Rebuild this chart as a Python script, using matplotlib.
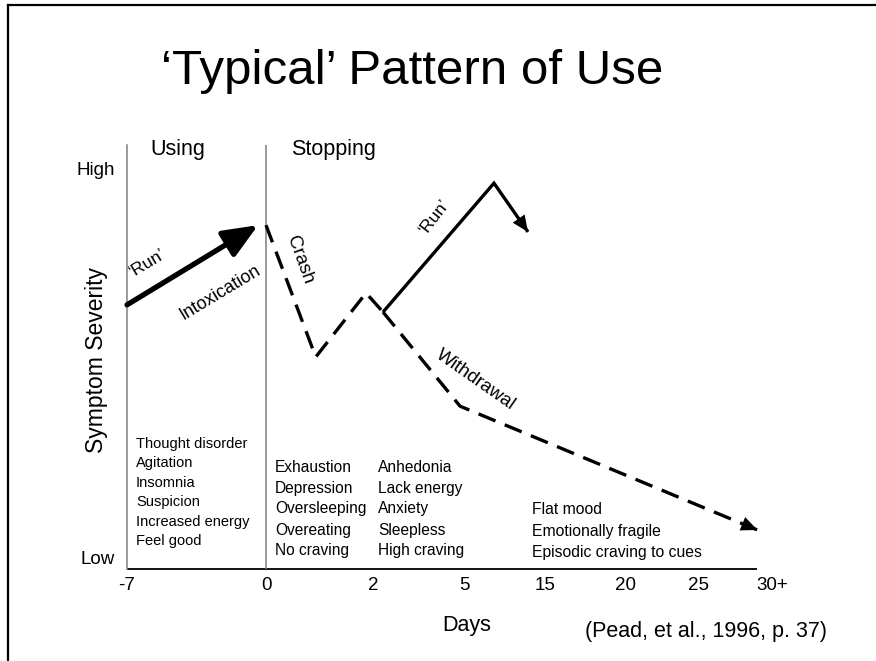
import numpy as np
import matplotlib
matplotlib.use('Agg')
import matplotlib.pyplot as plt
from matplotlib.lines import Line2D

plt.rcParams.update({
    'font.family': 'Liberation Sans',
    'figure.dpi': 100,
})

W, H = 876, 661

# Day axis: ticks are not evenly spaced in time
DAY_TICKS = [-7, 0, 2, 5, 15, 20, 25, 30]
DAY_LABELS = ['-7', '0', '2', '5', '15', '20', '25', '30+']
TICK_POS = [0, 139, 246, 337, 418, 499, 572, 645]   # display spacing of the ticks
AXIS_END = 29.0

SEV_TICKS = [0.28, 9.45]
SEV_LABELS = ['Low', 'High']

# Symptom severity trajectories (0 = low, 10 = high)
RUN_DAYS = [-7, -0.4]
RUN_SEV = [6.23, 8.11]
CRASH_DAYS = [0, 0.93, 1.87, 2.33]
CRASH_SEV = [8.11, 5.0, 6.51, 6.06]
RELAPSE_DAYS = [2.33, 8.7, 12.9]
RELAPSE_SEV = [6.06, 9.10, 7.95]
WITHDRAW_DAYS = [2.33, 4.87, 29.0]
WITHDRAW_SEV = [6.06, 3.84, 0.92]

USING_SYMPTOMS = ['Thought disorder', 'Agitation', 'Insomnia', 'Suspicion',
                  'Increased energy', 'Feel good']
CRASH_SYMPTOMS = ['Exhaustion', 'Depression', 'Oversleeping', 'Overeating',
                  'No craving']
WITHDRAW_SYMPTOMS = ['Anhedonia', 'Lack energy', 'Anxiety', 'Sleepless',
                     'High craving']
LATE_SYMPTOMS = ['Flat mood', 'Emotionally fragile', 'Episodic craving to cues']


def fwd(d):
    return np.interp(d, DAY_TICKS, TICK_POS)


def inv(p):
    return np.interp(p, TICK_POS, DAY_TICKS)


def px(x, y):
    return x / W, 1 - y / H


fig = plt.figure(figsize=(W / 100, H / 100))

# slide frame
fig.add_artist(Line2D([8 / W, 1], [1 - 5 / H, 1 - 5 / H], color='black', lw=1.6))
fig.add_artist(Line2D([8 / W, 8 / W], [0, 1 - 5 / H], color='black', lw=1.6))

ax = fig.add_axes([127 / W, 92 / H, 645 / W, 424 / H])
ax.set_xscale('function', functions=(fwd, inv))
ax.set_xlim(-7, 30)
ax.set_ylim(0, 10)
for s in ('top', 'right', 'bottom'):
    ax.spines[s].set_visible(False)
ax.spines['left'].set_color('#808080')
ax.spines['left'].set_linewidth(1.1)

ax.set_xticks(DAY_TICKS)
ax.set_xticklabels(DAY_LABELS, fontsize=13.5)
ax.set_xticks([], minor=True)
ax.set_yticks(SEV_TICKS)
ax.set_yticklabels(SEV_LABELS, fontsize=13.5)
ax.tick_params(axis='x', length=0, pad=6)
ax.tick_params(axis='y', length=0, pad=9)

# x axis line stops short of the last tick
ax.plot([-7, AXIS_END], [0, 0], color='black', lw=1.3, clip_on=False,
        solid_capstyle='butt')
ax.axvline(0, color='#808080', lw=1.1)

# using: 'run' arrow
ax.annotate('', xy=(RUN_DAYS[1], RUN_SEV[1]), xytext=(RUN_DAYS[0], RUN_SEV[0]),
            arrowprops=dict(arrowstyle='-|>,head_length=1.0,head_width=0.42',
                            mutation_scale=21, lw=3.8, color='black',
                            shrinkA=0, shrinkB=0))

dash = (0, (5.5, 3))
ax.plot(CRASH_DAYS, CRASH_SEV, color='black', lw=2.4, linestyle=dash,
        dash_capstyle='butt')

ax.plot(RELAPSE_DAYS, RELAPSE_SEV, color='black', lw=2.4,
        solid_joinstyle='miter', solid_capstyle='butt')
ax.annotate('', xy=(RELAPSE_DAYS[-1], RELAPSE_SEV[-1]),
            xytext=(RELAPSE_DAYS[-2], RELAPSE_SEV[-2]),
            arrowprops=dict(arrowstyle='-|>,head_length=0.9,head_width=0.4',
                            mutation_scale=13, lw=0, color='black',
                            shrinkA=0, shrinkB=0))

ax.plot(WITHDRAW_DAYS, WITHDRAW_SEV, color='black', lw=2.4, linestyle=dash,
        dash_capstyle='butt')
ax.annotate('', xy=(WITHDRAW_DAYS[-1], WITHDRAW_SEV[-1]),
            xytext=(WITHDRAW_DAYS[-2], WITHDRAW_SEV[-2]),
            arrowprops=dict(arrowstyle='-|>,head_length=0.9,head_width=0.4',
                            mutation_scale=13, lw=0, color='black',
                            shrinkA=0, shrinkB=0))

# titles and labels
fig.text(*px(412, 71), '\u2018Typical\u2019 Pattern of Use', fontsize=35.5,
         ha='center', va='center')
fig.text(*px(178, 150), 'Using', fontsize=15.5, ha='center', va='center')
fig.text(*px(333, 150), 'Stopping', fontsize=15.5, ha='center', va='center')
fig.text(*px(96, 360), 'Symptom Severity', fontsize=16.5, rotation=90,
         ha='center', va='center')
fig.text(*px(467, 625), 'Days', fontsize=15.5, ha='center', va='center')
fig.text(*px(706, 632), '(Pead, et al., 1996, p. 37)', fontsize=15.5,
         ha='center', va='center')

# line annotations
rot = dict(ha='center', va='center', rotation_mode='anchor')
fig.text(*px(148, 263), '\u2018Run\u2019', fontsize=12.5, rotation=31, **rot)
fig.text(*px(220, 293), 'Intoxication', fontsize=13, rotation=31, **rot)
fig.text(*px(300, 260), 'Crash', fontsize=13.5, rotation=-70, **rot)
fig.text(*px(435, 217), '\u2018Run\u2019', fontsize=12.5, rotation=52, **rot)
fig.text(*px(475, 380), 'Withdrawal', fontsize=13.5, rotation=-35, **rot)

# symptom lists
for i, s in enumerate(USING_SYMPTOMS):
    fig.text(*px(136, 444 + 19.4 * i), s, fontsize=10.5, ha='left', va='center')
for i, s in enumerate(CRASH_SYMPTOMS):
    fig.text(*px(275, 467 + 21 * i), s, fontsize=11.2, ha='left', va='center')
for i, s in enumerate(WITHDRAW_SYMPTOMS):
    fig.text(*px(378, 467 + 21 * i), s, fontsize=11.2, ha='left', va='center')
for i, s in enumerate(LATE_SYMPTOMS):
    fig.text(*px(532, 510 + 21.5 * i), s, fontsize=11.3, ha='left', va='center')

fig.savefig('out.png', dpi=100)
